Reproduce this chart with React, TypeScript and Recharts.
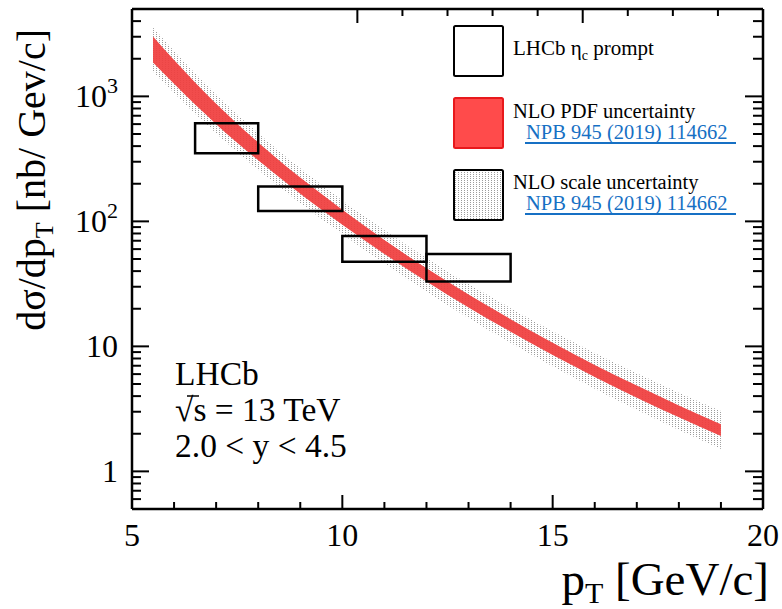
import React from 'react';
import { ComposedChart, Area, XAxis, YAxis, ReferenceArea, Legend } from 'recharts';

const FONT = '"Liberation Serif", "Times New Roman", serif';

// NLO prediction sampled on a pT grid [GeV/c]
const ptGrid = [5.5, 6, 7, 8, 9, 10, 11, 12, 13, 14, 15, 16, 17, 18, 19];
// PDF uncertainty band [nb/(GeV/c)]
const pdfLow = [1866, 1259, 599, 308, 166, 94.1, 54.9, 33.0, 20.5, 13.1, 8.53, 5.7, 3.89, 2.71, 1.92];
const pdfHigh = [3013, 1950, 874, 428, 224, 124, 71.0, 42.1, 26.0, 16.5, 10.7, 7.11, 4.86, 3.37, 2.38];
// scale uncertainty band [nb/(GeV/c)]
const scaleLow = [1581, 1064, 506, 259, 140, 79.1, 45.8, 27.4, 16.9, 10.7, 6.92, 4.58, 3.11, 2.14, 1.51];
const scaleHigh = [3556, 2307, 1037, 508, 266, 147, 85.0, 50.8, 31.5, 20.2, 13.2, 8.85, 6.09, 4.26, 3.04];

// LHCb prompt eta_c measurement: pT bins and cross-section ranges
const binLow = [6.5, 8, 10, 12];
const binHigh = [8, 10, 12, 14];
const xsLow = [351, 121, 47.6, 33.0];
const xsHigh = [609, 190, 76.3, 54.8];

// axis ticks
const xTicks = [5, 6, 7, 8, 9, 10, 11, 12, 13, 14, 15, 16, 17, 18, 19, 20];
const xMajor = [5, 10, 15, 20];
const yTicks = [
  0.5, 0.6, 0.7, 0.8, 0.9,
  1, 2, 3, 4, 5, 6, 7, 8, 9,
  10, 20, 30, 40, 50, 60, 70, 80, 90,
  100, 200, 300, 400, 500, 600, 700, 800, 900,
  1000, 2000, 3000, 4000, 5000,
];
const yMajor = [1, 10, 100, 1000];
const yMajorText = ['1', '10', '10', '10'];
const yMajorExp = ['', '', '2', '3'];

const legendTitles = ['LHCb η', 'NLO PDF uncertainty', 'NLO scale uncertainty'];
const legendRef = 'NPB 945 (2019) 114662';

const rows = ptGrid.map((pt, i) => ({
  pt,
  pdf: [pdfLow[i], pdfHigh[i]],
  scale: [scaleLow[i], scaleHigh[i]],
}));

const RED = '#f03e3e';
const LINK = '#1670c4';
const DOT = '#9c9c9c';

const XTickBottom = (props: any) => {
  const { x, y, payload } = props;
  const major = xMajor.includes(payload.value);
  return (
    <g>
      <line x1={x} x2={x} y1={y} y2={y - (major ? 14 : 7)} stroke="#000" strokeWidth={2} />
      {major && (
        <text x={x} y={y + 37} textAnchor="middle" fontFamily={FONT} fontSize={32} fill="#000">
          {payload.value}
        </text>
      )}
    </g>
  );
};

const XTickTop = (props: any) => {
  const { x, y, payload } = props;
  const major = xMajor.includes(payload.value);
  return <line x1={x} x2={x} y1={y} y2={y + (major ? 14 : 7)} stroke="#000" strokeWidth={2} />;
};

const YTickLeft = (props: any) => {
  const { x, y, payload } = props;
  const k = yMajor.indexOf(payload.value);
  return (
    <g>
      <line x1={x} x2={x + (k >= 0 ? 17 : 9)} y1={y} y2={y} stroke="#000" strokeWidth={2} />
      {k >= 0 && (
        <text x={x - 14} y={y + 11} textAnchor="end" fontFamily={FONT} fontSize={32} fill="#000">
          {yMajorText[k]}
          {yMajorExp[k] && (
            <tspan dy={-14} fontSize={22}>
              {yMajorExp[k]}
            </tspan>
          )}
        </text>
      )}
    </g>
  );
};

const YTickRight = (props: any) => {
  const { x, y, payload } = props;
  const major = yMajor.includes(payload.value);
  return <line x1={x} x2={x - (major ? 18 : 10)} y1={y} y2={y} stroke="#000" strokeWidth={2} />;
};

const XTitle = () => (
  <text x={769} y={595} textAnchor="end" fontFamily={FONT} fontSize={47} fill="#000">
    p
    <tspan fontSize={30} dy={8}>
      T
    </tspan>
    <tspan dy={-8}>{' [GeV/c]'}</tspan>
  </text>
);

const YTitle = () => (
  <text
    x={45}
    y={29}
    transform="rotate(-90, 45, 29)"
    textAnchor="end"
    fontFamily={FONT}
    fontSize={40}
    fill="#000"
  >
    dσ/dp
    <tspan fontSize={26} dy={8}>
      T
    </tspan>
    <tspan dy={-8}>{' [nb/ Gev/c]'}</tspan>
  </text>
);

const LegendBox = () => (
  <svg width={330} height={220} style={{ display: 'block', overflow: 'visible' }}>
    <defs>
      <pattern id="legendDots" width={3} height={2} patternUnits="userSpaceOnUse">
        <rect x={0} y={0} width={1} height={1} fill={DOT} />
      </pattern>
    </defs>
    <rect x={14} y={16} width={49} height={50} fill="#fff" stroke="#000" strokeWidth={2} rx={1.5} />
    <rect x={14} y={88} width={49} height={50} fill="#ff4b4b" stroke="#e8191c" strokeWidth={2} rx={1.5} />
    <rect x={14} y={160} width={49} height={50} fill="url(#legendDots)" stroke="#000" strokeWidth={2} rx={1.5} />
    <text x={73} y={45} fontFamily={FONT} fontSize={21} fill="#000">
      {legendTitles[0]}
      <tspan fontSize={14} dy={5}>
        c
      </tspan>
      <tspan dy={-5}>{' prompt'}</tspan>
    </text>
    <text x={73} y={108} fontFamily={FONT} fontSize={20.5} fill="#000">
      {legendTitles[1]}
    </text>
    <text x={86} y={129} fontFamily={FONT} fontSize={20.5} fill={LINK}>
      {legendRef}
    </text>
    <line x1={85} x2={296} y1={133} y2={133} stroke={LINK} strokeWidth={2} />
    <text x={73} y={179} fontFamily={FONT} fontSize={20.5} fill="#000">
      {legendTitles[2]}
    </text>
    <text x={86} y={200} fontFamily={FONT} fontSize={20.5} fill={LINK}>
      {legendRef}
    </text>
    <line x1={85} x2={296} y1={204} y2={204} stroke={LINK} strokeWidth={2} />
  </svg>
);

const axisLine = { stroke: '#000', strokeWidth: 2.5 };

export default function App() {
  return (
    <div style={{ position: 'absolute', left: 0, top: 0, width: 782, height: 609, background: '#fff' }}>
      <ComposedChart width={782} height={609} data={rows} margin={{ top: 1, right: 9, bottom: 10, left: 12 }}>
        <defs>
          <pattern id="scaleDots" width={3} height={2} patternUnits="userSpaceOnUse">
            <rect x={0} y={0} width={1} height={1} fill={DOT} />
          </pattern>
        </defs>
        <XAxis
          xAxisId="b"
          dataKey="pt"
          type="number"
          domain={[5, 20]}
          allowDataOverflow
          ticks={xTicks}
          interval={0}
          tickSize={0}
          tickMargin={0}
          tickLine={false}
          axisLine={axisLine}
          tick={<XTickBottom />}
          height={90}
          label={{ content: () => <XTitle /> }}
        />
        <XAxis
          xAxisId="t"
          orientation="top"
          type="number"
          domain={[5, 20]}
          allowDataOverflow
          ticks={xTicks}
          interval={0}
          tickSize={0}
          tickMargin={0}
          tickLine={false}
          axisLine={axisLine}
          tick={<XTickTop />}
          height={8}
        />
        <YAxis
          yAxisId="l"
          scale="log"
          type="number"
          domain={[0.5, 5000]}
          allowDataOverflow
          ticks={yTicks}
          interval={0}
          tickSize={0}
          tickMargin={0}
          tickLine={false}
          axisLine={axisLine}
          tick={<YTickLeft />}
          width={120}
          label={{ content: () => <YTitle /> }}
        />
        <YAxis
          yAxisId="r"
          orientation="right"
          scale="log"
          type="number"
          domain={[0.5, 5000]}
          allowDataOverflow
          ticks={yTicks}
          interval={0}
          tickSize={0}
          tickMargin={0}
          tickLine={false}
          axisLine={axisLine}
          tick={<YTickRight />}
          width={10}
        />
        <Area
          xAxisId="b"
          yAxisId="l"
          dataKey="scale"
          type="monotone"
          fill="url(#scaleDots)"
          fillOpacity={1}
          stroke="none"
          isAnimationActive={false}
        />
        <Area
          xAxisId="b"
          yAxisId="l"
          dataKey="pdf"
          type="monotone"
          fill={RED}
          fillOpacity={0.93}
          stroke="none"
          isAnimationActive={false}
        />
        {binLow.map((lo, i) => (
          <ReferenceArea
            key={i}
            xAxisId="b"
            yAxisId="l"
            x1={lo}
            x2={binHigh[i]}
            y1={xsLow[i]}
            y2={xsHigh[i]}
            fill="none"
            fillOpacity={0}
            stroke="#000"
            strokeWidth={2.5}
          />
        ))}
        <g>
          <text x={175} y={385} fontFamily={FONT} fontSize={33.5} fill="#000">
            LHCb
          </text>
          <text x={175} y={421} fontFamily={FONT} fontSize={33.5} fill="#000">
            √s = 13 TeV
          </text>
          <line x1={187} x2={199} y1={396} y2={396} stroke="#000" strokeWidth={1.5} />
          <text x={175} y={457} fontFamily={FONT} fontSize={33.5} fill="#000">
            2.0 &lt; y &lt; 4.5
          </text>
        </g>
        <Legend
          content={<LegendBox />}
          layout="vertical"
          align="center"
          verticalAlign="middle"
          wrapperStyle={{ left: 440, top: 10, width: 330, height: 220 }}
        />
      </ComposedChart>
    </div>
  );
}
